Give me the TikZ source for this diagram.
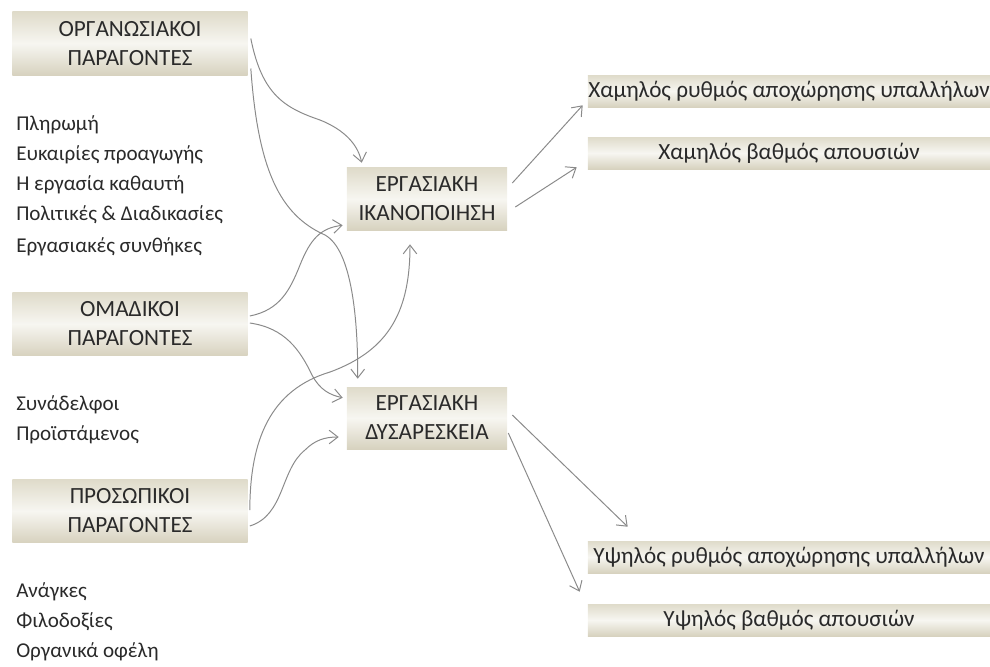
\documentclass[tikz,border=0pt]{standalone}
\usepackage{fontspec}
\setmainfont{Carlito}
\usetikzlibrary{arrows.meta}

\definecolor{boxtop}{HTML}{DFDBCA}
\definecolor{boxmid}{HTML}{F7F6F1}
\definecolor{boxbot}{HTML}{D7D2BF}
\definecolor{ink}{HTML}{2A2A2A}
\definecolor{arrowgray}{HTML}{8A8A8A}

\tikzset{
	shadebox/.style={rectangle,inner sep=0pt,top color=boxtop,bottom color=boxbot,middle color=boxmid,align=center,text=ink,font=\fontsize{16.5}{20.6}\selectfont},
	factorbox/.style={shadebox,minimum width=5.875cm,minimum height=1.575cm},
	feelbox/.style={shadebox,minimum width=4cm,minimum height=1.55cm},
	effectbox/.style={shadebox,minimum width=10.05cm,minimum height=0.8cm},
	listitem/.style={anchor=west,inner sep=0pt,text=ink,font=\fontsize{15}{18}\selectfont},
	link/.style={->,draw,arrowgray,line width=0.7pt}
}

\begin{document}
\begin{tikzpicture}[x=0.025cm,y=-0.025cm,>={Straight Barb[length=2.2mm,width=3.4mm]}]
		
			\useasboundingbox (0,0) rectangle (990,666);
			
			\node[factorbox] (org) at (130,43.5) {ΟΡΓΑΝΩΣΙΑΚΟΙ\\ΠΑΡΑΓΟΝΤΕΣ};
			\node[listitem] (pay) at (16,125) {Πληρωμή};
			\node[listitem] (promo) at (16,155) {Ευκαιρίες προαγωγής};
			\node[listitem] (work) at (16,185) {Η εργασία καθαυτή};
			\node[listitem] (policy) at (16,215) {Πολιτικές \& Διαδικασίες};
			\node[listitem] (cond) at (16,247) {Εργασιακές συνθήκες};
			
			\node[factorbox] (group) at (130,324) {ΟΜΑΔΙΚΟΙ\\ΠΑΡΑΓΟΝΤΕΣ};
			\node[listitem] (peers) at (16,405) {Συνάδελφοι};
			\node[listitem] (boss) at (16,435) {Προϊστάμενος};
			
			\node[factorbox] (pers) at (130,511) {ΠΡΟΣΩΠΙΚΟΙ\\ΠΑΡΑΓΟΝΤΕΣ};
			\node[listitem] (needs) at (16,592) {Ανάγκες};
			\node[listitem] (ambit) at (16,622) {Φιλοδοξίες};
			\node[listitem] (perks) at (16,652) {Οργανικά οφέλη};
			
			\node[feelbox] (sat) at (427,199) {ΕΡΓΑΣΙΑΚΗ\\ΙΚΑΝΟΠΟΙΗΣΗ};
			\node[feelbox] (dis) at (427,418) {ΕΡΓΑΣΙΑΚΗ\\ΔΥΣΑΡΕΣΚΕΙΑ};
			
			\node[effectbox] (lowturn) at (789,91) {Χαμηλός ρυθμός αποχώρησης υπαλλήλων};
			\node[effectbox] (lowabs) at (789,153) {Χαμηλός βαθμός απουσιών};
			\node[effectbox] (highturn) at (789,557) {Υψηλός ρυθμός αποχώρησης υπαλλήλων};
			\node[effectbox] (highabs) at (789,620) {Υψηλός βαθμός απουσιών};
			
			\path[link] ([shift={(3,-5)}]org.east) .. controls (262,95) and (285,108) .. (320,120) .. controls (345,130) and (358,145) .. ([shift={(15,-5)}]sat.north west);
			\path[link] ([shift={(3,25)}]org.east) .. controls (258,170) and (280,215) .. (325,235) .. controls (352,250) and (358,320) .. ([shift={(11,-8)}]dis.north west);
			
			\path[link] ([shift={(2,-8)}]group.east) .. controls (280,310) and (290,290) .. (300,265) .. controls (310,240) and (320,228) .. ([shift={(-4,-5)}]sat.south west);
			\path[link] ([shift={(2,-1)}]group.east) .. controls (285,328) and (300,350) .. (312,375) .. controls (320,390) and (330,395) .. ([shift={(-4,11)}]dis.north west);
			
			\path[link] ([shift={(2,-1)}]pers.east) .. controls (250,440) and (270,390) .. (330,372) .. controls (390,350) and (410,310) .. ([shift={(-17,14)}]sat.south);
			\path[link] ([shift={(2,15)}]pers.east) .. controls (285,515) and (280,470) .. (305,450) .. controls (315,440) and (325,437) .. ([shift={(-8,19)}]dis.west);
			
			\path[link] ([shift={(5,-16)}]sat.east) -- ([shift={(-5,-2)}]lowturn.south west);
			\path[link] ([shift={(8,8)}]sat.east) -- ([shift={(-11,-2)}]lowabs.south west);
			\path[link] ([shift={(5,-3)}]dis.east) -- ([shift={(40,-14)}]highturn.north west);
			\path[link] ([shift={(1,15)}]dis.east) -- ([shift={(-8,-12)}]highabs.north west);
		
		\end{tikzpicture}
\end{document}
